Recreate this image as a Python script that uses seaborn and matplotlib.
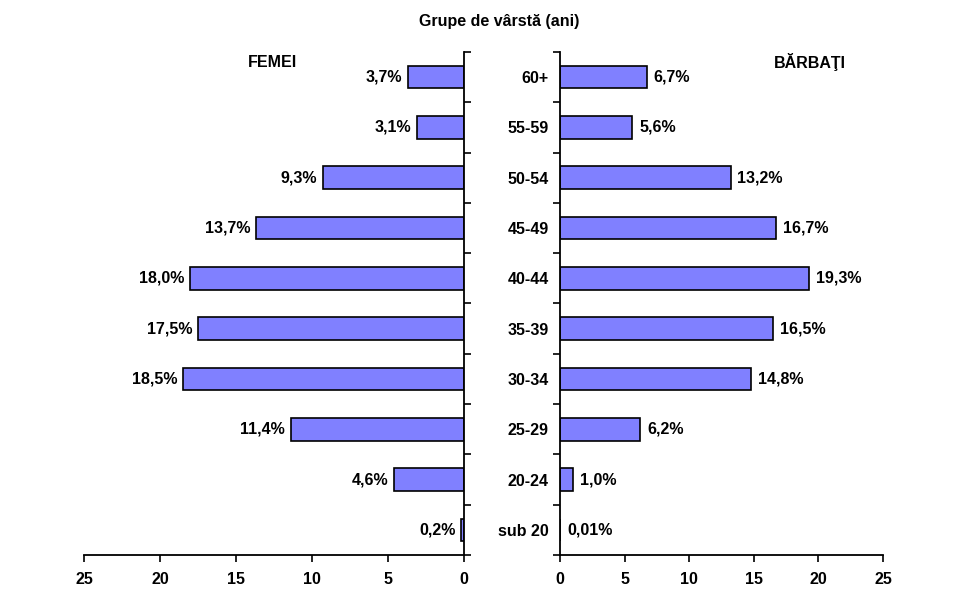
import numpy as np
import pandas as pd
import seaborn as sns
import matplotlib
matplotlib.use("Agg")
import matplotlib.pyplot as plt

groups = ["60+", "55-59", "50-54", "45-49", "40-44", "35-39", "30-34", "25-29", "20-24", "sub 20"]
femei = [3.7, 3.1, 9.3, 13.7, 18.0, 17.5, 18.5, 11.4, 4.6, 0.2]
barbati = [6.7, 5.6, 13.2, 16.7, 19.3, 16.5, 14.8, 6.2, 1.0, 0.01]
femei_labels = ["3,7%", "3,1%", "9,3%", "13,7%", "18,0%", "17,5%", "18,5%", "11,4%", "4,6%", "0,2%"]
barbati_labels = ["6,7%", "5,6%", "13,2%", "16,7%", "19,3%", "16,5%", "14,8%", "6,2%", "1,0%", "0,01%"]
x_ticks = [0, 5, 10, 15, 20, 25]

sns.set_style("white")
plt.rcParams['font.family'] = ['Liberation Sans', 'DejaVu Sans']
plt.rcParams['font.weight'] = 'bold'
plt.rcParams['text.color'] = 'black'
plt.rcParams['xtick.color'] = 'black'
plt.rcParams['ytick.color'] = 'black'
plt.rcParams['axes.labelcolor'] = 'black'

df = pd.DataFrame({"grupa": groups, "femei": femei, "barbati": barbati})
bar_color = "#8080ff"
fs = 11.5

fig = plt.figure(figsize=(9.7, 5.94), dpi=100)
ax1 = fig.add_axes([0.0866, 0.0657, 0.3918, 0.8468])
ax2 = fig.add_axes([0.5773, 0.0657, 0.3330, 0.8468])

sns.barplot(data=df, y="grupa", x="femei", orient="h", color=bar_color,
            edgecolor="black", linewidth=1.2, width=0.45, saturation=1, ax=ax1)
sns.barplot(data=df, y="grupa", x="barbati", orient="h", color=bar_color,
            edgecolor="black", linewidth=1.2, width=0.45, saturation=1, ax=ax2)

ax1.set_xlim(25, 0)
ax2.set_xlim(0, 25)
for ax in (ax1, ax2):
    ax.set_ylim(len(groups) - 0.5, -0.5)
    ax.set_xticks(x_ticks)
    ax.set_xticklabels([str(t) for t in x_ticks], fontsize=fs, fontweight='bold')
    ax.set_xlabel("")
    ax.set_ylabel("")
    ax.set_yticks(np.arange(len(groups) + 1) - 0.5, minor=True)
    ax.tick_params(axis='x', direction='out', length=5, width=1.2, pad=7, bottom=True)
    ax.tick_params(axis='y', which='minor', direction='out', length=5, width=1.2)
    ax.tick_params(axis='y', which='major', length=0)
    for s in ax.spines.values():
        s.set_linewidth(1.3)
        s.set_color("black")
    ax.spines['top'].set_visible(False)

ax1.spines['left'].set_visible(False)
ax1.yaxis.tick_right()
ax1.tick_params(axis='y', which='both', left=False, right=True)
ax1.set_yticklabels([])

ax2.spines['right'].set_visible(False)
ax2.tick_params(axis='y', which='both', left=True, right=False)
ax2.tick_params(axis='y', which='major', pad=8)
ax2.set_yticks(np.arange(len(groups)))
ax2.set_yticklabels(groups, fontsize=fs, fontweight='bold')

ax1.bar_label(ax1.containers[0], labels=femei_labels, padding=4, fontsize=fs, fontweight='bold')
ax2.bar_label(ax2.containers[0], labels=barbati_labels, padding=5, fontsize=fs, fontweight='bold')

fig.text(0.515, 0.963, "Grupe de vârstă (ani)", ha='center', va='center', fontsize=fs, fontweight='bold')
fig.text(0.281, 0.894, "FEMEI", ha='center', va='center', fontsize=fs, fontweight='bold')
fig.text(0.835, 0.896, "BĂRBAŢI", ha='center', va='center', fontsize=fs, fontweight='bold')

fig.savefig("out.png", dpi=100, facecolor="white")
